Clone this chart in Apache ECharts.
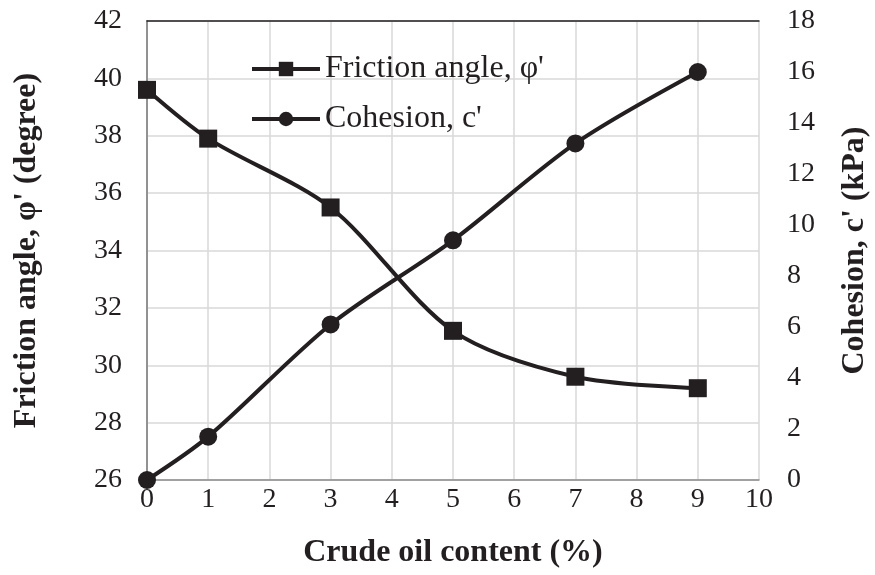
<!DOCTYPE html>
<html><head><meta charset="utf-8">
<script src="https://cdn.jsdelivr.net/npm/echarts@6/dist/echarts.min.js"></script>
<style>html,body{margin:0;padding:0;background:#fff}#c{width:875px;height:575px}</style>
</head><body><div id="c"></div>
<script>
const oilContent = [0, 1, 3, 5, 7, 9];
const frictionAngle = [39.6, 37.9, 35.5, 31.2, 29.6, 29.2];
const cohesion = [0, 1.7, 6.1, 9.4, 13.2, 16.0];
const seriesNames = ['Friction angle, φ\'', 'Cohesion, c\''];

const font = '"Liberation Serif", "Times New Roman", serif';
const ink = '#231f20';
const chart = echarts.init(document.getElementById('c'));
chart.setOption({
  animation: false,
  backgroundColor: '#fff',
  textStyle: { fontFamily: font, color: ink },
  grid: { left: 147, right: 116, top: 21, bottom: 95, containLabel: false, outerBoundsMode: 'none' },
  legend: {
    orient: 'vertical', left: 250, top: 53, padding: 0, itemWidth: 68, itemHeight: 18, itemGap: 18,
    textStyle: { fontFamily: font, fontSize: 32, color: ink },
    lineStyle: { width: 4, color: ink },
    data: seriesNames
  },
  xAxis: [{
    type: 'value', min: 0, max: 10, interval: 1,
    name: 'Crude oil content (%)', nameLocation: 'middle', nameGap: 57,
    nameTextStyle: { fontFamily: font, fontSize: 32, fontWeight: 'bold', color: ink },
    axisLine: { show: true, lineStyle: { color: '#8c8c8c', width: 1.5 } },
    axisTick: { show: false },
    axisLabel: { fontFamily: font, fontSize: 28, color: ink, margin: 6 },
    splitLine: { show: true, lineStyle: { color: '#d9d9d9', width: 1.5 } }
  }, {
    type: 'value', position: 'top', min: 0, max: 10, interval: 1,
    axisLine: { show: true, lineStyle: { color: ink, width: 1.5 } },
    axisTick: { show: false }, axisLabel: { show: false }, splitLine: { show: false }
  }],
  yAxis: [{
    type: 'value', min: 26, max: 42, interval: 2, position: 'left',
    name: 'Friction angle, φ\' (degree)', nameLocation: 'middle', nameGap: 104, nameRotate: 90,
    nameTextStyle: { fontFamily: font, fontSize: 32, fontWeight: 'bold', color: ink },
    axisLine: { show: true, lineStyle: { color: '#8c8c8c', width: 1.5 } },
    axisTick: { show: false },
    axisLabel: { fontFamily: font, fontSize: 28, color: ink, margin: 25 },
    splitLine: { show: true, lineStyle: { color: '#d9d9d9', width: 1.5 } }
  }, {
    type: 'value', min: 0, max: 18, interval: 2, position: 'right',
    name: 'Cohesion, c\' (kPa)', nameLocation: 'middle', nameGap: 80, nameRotate: 90,
    nameTextStyle: { fontFamily: font, fontSize: 32, fontWeight: 'bold', color: ink },
    axisLine: { show: true, lineStyle: { color: '#8c8c8c', width: 1.5 } },
    axisTick: { show: false },
    axisLabel: { fontFamily: font, fontSize: 28, color: ink, margin: 28 },
    splitLine: { show: false }
  }],
  series: [{
    name: seriesNames[0], type: 'line', xAxisIndex: 0, yAxisIndex: 0, smooth: 0.3,
    data: oilContent.map((x, i) => [x, frictionAngle[i]]),
    symbol: 'rect', symbolSize: 18,
    lineStyle: { color: ink, width: 4 },
    itemStyle: { color: ink }
  }, {
    name: seriesNames[1], type: 'line', xAxisIndex: 0, yAxisIndex: 1, smooth: 0.3,
    data: oilContent.map((x, i) => [x, cohesion[i]]),
    symbol: 'circle', symbolSize: 18,
    lineStyle: { color: ink, width: 4 },
    itemStyle: { color: ink }
  }]
});
</script></body></html>
